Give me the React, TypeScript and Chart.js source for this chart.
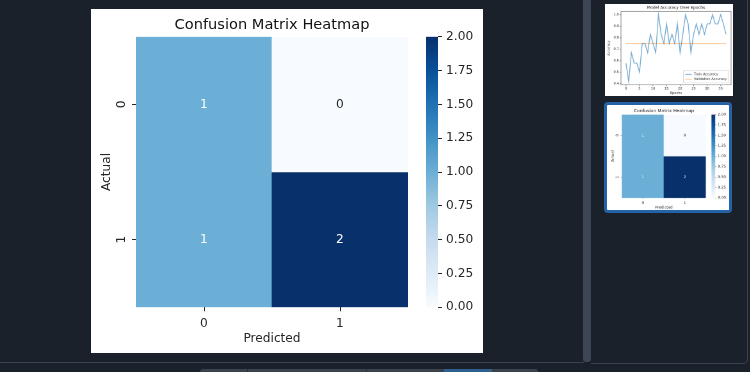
import React, { useEffect, useRef } from 'react';
import { Chart, registerables } from 'chart.js';

Chart.register(...registerables);

// ---------- data ----------
const predictedLabels = ['0', '1'];
const actualLabels = ['0', '1'];
const matrixRow0 = [1, 0];
const matrixRow1 = [1, 2];
const colorbarRange = [0, 2];
const colorbarStep = 0.25;

const epochs = [0, 1, 2, 3, 4, 5, 6, 7, 8, 9, 10, 11, 12, 13, 14, 15, 16, 17, 18, 19, 20, 21, 22, 23, 24, 25, 26, 27, 28, 29, 30, 31, 32, 33, 34, 35, 36, 37];
const trainAccuracy = [0.58, 0.42, 0.67, 0.58, 0.58, 0.5, 0.75, 0.75, 0.67, 0.83, 0.75, 0.67, 1.0, 0.83, 0.75, 0.92, 0.75, 0.83, 0.75, 0.92, 0.67, 0.83, 1.0, 0.92, 0.67, 0.83, 0.92, 0.83, 0.92, 0.83, 0.92, 0.92, 1.0, 0.92, 0.92, 1.0, 0.92, 0.83];
const validationAccuracy = [0.75, 0.75, 0.75, 0.75, 0.75, 0.75, 0.75, 0.75, 0.75, 0.75, 0.75, 0.75, 0.75, 0.75, 0.75, 0.75, 0.75, 0.75, 0.75, 0.75, 0.75, 0.75, 0.75, 0.75, 0.75, 0.75, 0.75, 0.75, 0.75, 0.75, 0.75, 0.75, 0.75, 0.75, 0.75, 0.75, 0.75, 0.75];
const epochTicks = [0, 5, 10, 15, 20, 25, 30, 35];
const accuracyTicks = [0.4, 0.5, 0.6, 0.7, 0.8, 0.9, 1.0];

// ---------- styles ----------
const FONT = '"DejaVu Sans", sans-serif';
const TXT = '#262626';
const BLUES = ['#f7fbff', '#deebf7', '#c6dbef', '#9ecae1', '#6baed6', '#4292c6', '#2171b5', '#08519c', '#08306b'];
const FIG_W = 392;
const FIG_H = 344;
const MAIN_W = 320;
const CB_LEFT = 330;
const CB_W = 62;

function hexToRgb(h: string) {
  const n = parseInt(h.slice(1), 16);
  return [(n >> 16) & 255, (n >> 8) & 255, n & 255];
}
function blues(t: number) {
  const tt = Math.max(0, Math.min(1, t)) * (BLUES.length - 1);
  const i = Math.min(BLUES.length - 2, Math.floor(tt));
  const f = tt - i;
  const a = hexToRgb(BLUES[i]);
  const b = hexToRgb(BLUES[i + 1]);
  const c = a.map((v, k) => Math.round(v + (b[k] - v) * f));
  return `rgb(${c[0]},${c[1]},${c[2]})`;
}
function annotColor(t: number) {
  const s = blues(t).match(/\d+/g)!.map(Number).map((v) => {
    const x = v / 255;
    return x <= 0.03928 ? x / 12.92 : Math.pow((x + 0.055) / 1.055, 2.4);
  });
  const lum = 0.2126 * s[0] + 0.7152 * s[1] + 0.0722 * s[2];
  return lum > 0.408 ? TXT : '#ffffff';
}

function makeCanvas(w: number, h: number) {
  const c = document.createElement('canvas');
  c.width = w;
  c.height = h;
  return c;
}

function downscale(src: HTMLCanvasElement, dst: HTMLCanvasElement) {
  let cur = src;
  while (cur.width / 2 > dst.width) {
    const c = makeCanvas(Math.round(cur.width / 2), Math.round(cur.height / 2));
    const x = c.getContext('2d')!;
    x.imageSmoothingEnabled = true;
    (x as any).imageSmoothingQuality = 'high';
    x.drawImage(cur, 0, 0, c.width, c.height);
    cur = c;
  }
  const d = dst.getContext('2d')!;
  d.imageSmoothingEnabled = true;
  (d as any).imageSmoothingQuality = 'high';
  d.clearRect(0, 0, dst.width, dst.height);
  d.drawImage(cur, 0, 0, dst.width, dst.height);
}

function buildHeatmap(mainCanvas: HTMLCanvasElement, cbCanvas: HTMLCanvasElement) {
  const rows = [matrixRow0, matrixRow1];
  const vmin = colorbarRange[0];
  const vmax = colorbarRange[1];
  const fs = 12.2;
  const annot = {
    id: 'annot',
    afterDatasetsDraw(chart: any) {
      const ctx = chart.ctx;
      ctx.save();
      ctx.font = `${fs}px ${FONT}`;
      ctx.textAlign = 'center';
      ctx.textBaseline = 'middle';
      rows.forEach((row, r) => {
        const meta = chart.getDatasetMeta(r);
        meta.data.forEach((el: any, c: number) => {
          const v = row[c];
          ctx.fillStyle = annotColor((v - vmin) / (vmax - vmin));
          ctx.fillText(String(v), el.x, (el.y + el.base) / 2);
        });
      });
      ctx.restore();
    },
  };
  const tickGrid = { display: true, drawOnChartArea: false, tickLength: 4, color: TXT, lineWidth: 1 };
  const main = new Chart(mainCanvas, {
    type: 'bar',
    data: {
      labels: predictedLabels,
      datasets: rows.map((row, r) => ({
        data: row.map(() => [r, r + 1]),
        backgroundColor: row.map((v) => blues((v - vmin) / (vmax - vmin))),
        borderWidth: 0,
        grouped: false,
        barPercentage: 1,
        categoryPercentage: 1,
      })) as any,
    },
    options: {
      responsive: false,
      animation: false,
      devicePixelRatio: 1,
      layout: { padding: { left: 0, right: 3, top: 0, bottom: 0 } },
      plugins: {
        legend: { display: false },
        tooltip: { enabled: false },
        title: {
          display: true,
          text: 'Confusion Matrix Heatmap',
          fullSize: false,
          color: '#111',
          font: { family: FONT, size: 14.6, weight: 'normal' },
          padding: { top: 7.3, bottom: 2.9 },
        },
      },
      scales: {
        x: {
          type: 'category',
          offset: true,
          grid: { ...tickGrid, offset: false },
          border: { display: false },
          ticks: { color: TXT, font: { family: FONT, size: fs }, padding: 5, maxRotation: 0, minRotation: 0 },
          title: { display: true, text: 'Predicted', color: TXT, font: { family: FONT, size: fs }, padding: { top: 0, bottom: 7 } },
          afterFit: (s: any) => { s.height = 45.7; },
        },
        y: {
          type: 'linear',
          min: 0,
          max: 2,
          reverse: true,
          afterBuildTicks: (s: any) => { s.ticks = actualLabels.map((_, i) => ({ value: i + 0.5 })); },
          grid: tickGrid,
          border: { display: false },
          ticks: {
            color: TXT,
            font: { family: FONT, size: fs },
            minRotation: 90,
            maxRotation: 90,
            crossAlign: 'center',
            padding: 6,
            callback: (_v: any, i: number) => actualLabels[i],
          },
          title: { display: true, text: 'Actual', color: TXT, font: { family: FONT, size: fs }, padding: { top: 8.3, bottom: 0 } },
          afterFit: (s: any) => { s.width = 45; },
        },
      },
    } as any,
    plugins: [annot],
  });

  const cb = new Chart(cbCanvas, {
    type: 'bar',
    data: {
      labels: [''],
      datasets: [{
        data: [colorbarRange] as any,
        backgroundColor: (ctx: any) => {
          const a = ctx.chart.chartArea;
          if (!a) return blues(0.5);
          const g = ctx.chart.ctx.createLinearGradient(0, a.bottom, 0, a.top);
          BLUES.forEach((c, i) => g.addColorStop(i / (BLUES.length - 1), c));
          return g;
        },
        borderWidth: 0,
        barPercentage: 1,
        categoryPercentage: 1,
      }],
    },
    options: {
      responsive: false,
      animation: false,
      devicePixelRatio: 1,
      layout: { padding: { left: 5, top: 27.7, bottom: 45.7, right: 0 } },
      plugins: { legend: { display: false }, tooltip: { enabled: false } },
      scales: {
        x: { display: false },
        y: {
          position: 'right',
          min: colorbarRange[0],
          max: colorbarRange[1],
          grid: tickGrid,
          border: { display: false },
          ticks: { stepSize: colorbarStep, color: TXT, font: { family: FONT, size: fs }, padding: 4, callback: (v: any) => Number(v).toFixed(2) },
          afterFit: (s: any) => { s.width = 45; },
        },
      },
    } as any,
  });
  return [main, cb];
}

function buildAccuracy(canvas: HTMLCanvasElement) {
  const fs = 10.4;
  const box = {
    id: 'box',
    afterDraw(chart: any) {
      const { ctx, chartArea: a } = chart;
      ctx.save();
      ctx.strokeStyle = '#555';
      ctx.lineWidth = 1.5;
      ctx.strokeRect(a.left, a.top, a.right - a.left, a.bottom - a.top);
      ctx.restore();
    },
  };
  const legendBox = {
    id: 'legendBox',
    afterDraw(chart: any) {
      const { ctx, chartArea: a } = chart;
      const dss = chart.data.datasets;
      ctx.save();
      ctx.font = `${fs}px ${FONT}`;
      const tw = Math.max(...dss.map((d: any) => ctx.measureText(d.label).width));
      const w = tw + 40;
      const lh = 15;
      const h = dss.length * lh + 8;
      const x0 = a.right - w - 7;
      const y0 = a.bottom - h - 6;
      ctx.fillStyle = 'rgba(255,255,255,0.85)';
      ctx.strokeStyle = '#c8c8c8';
      ctx.lineWidth = 1.5;
      ctx.beginPath();
      ctx.roundRect(x0, y0, w, h, 3);
      ctx.fill();
      ctx.stroke();
      dss.forEach((d: any, i: number) => {
        const y = y0 + 4 + lh * i + lh / 2;
        ctx.strokeStyle = d.borderColor;
        ctx.lineWidth = 2.5;
        ctx.beginPath();
        ctx.moveTo(x0 + 6, y);
        ctx.lineTo(x0 + 26, y);
        ctx.stroke();
        ctx.fillStyle = TXT;
        ctx.textBaseline = 'middle';
        ctx.fillText(d.label, x0 + 33, y);
      });
      ctx.restore();
    },
  };
  const tickGrid = { display: true, drawOnChartArea: false, tickLength: 3.5, color: '#333', lineWidth: 1.5 };
  return new Chart(canvas, {
    type: 'line',
    data: {
      datasets: [
        { label: 'Train Accuracy', data: epochs.map((e, i) => ({ x: e, y: trainAccuracy[i] })), borderColor: 'rgba(31,119,180,0.65)', borderWidth: 2.6, pointRadius: 0, tension: 0 },
        { label: 'Validation Accuracy', data: epochs.map((e, i) => ({ x: e, y: validationAccuracy[i] })), borderColor: 'rgba(255,127,14,0.55)', borderWidth: 2.6, pointRadius: 0, tension: 0 },
      ],
    },
    options: {
      responsive: false,
      animation: false,
      devicePixelRatio: 1,
      layout: { padding: { left: 0, right: 6, top: 0, bottom: 0 } },
      plugins: {
        legend: { display: false },
        tooltip: { enabled: false },
        title: { display: true, text: 'Model Accuracy Over Epochs', fullSize: false, color: '#111', font: { family: FONT, size: 12.5, weight: 'normal' }, padding: { top: 4, bottom: 4 } },
      },
      scales: {
        x: {
          type: 'linear', min: -1.85, max: 38.85,
          afterBuildTicks: (s: any) => { s.ticks = epochTicks.map((v) => ({ value: v })); },
          grid: tickGrid, border: { display: false },
          ticks: { color: TXT, font: { family: FONT, size: fs }, padding: 3, maxRotation: 0, callback: (v: any) => String(v) },
          title: { display: true, text: 'Epochs', color: TXT, font: { family: FONT, size: fs }, padding: { top: 0, bottom: 2 } },
          afterFit: (s: any) => { s.height = 35; },
        },
        y: {
          type: 'linear', min: 0.391, max: 1.029,
          afterBuildTicks: (s: any) => { s.ticks = accuracyTicks.map((v) => ({ value: v })); },
          grid: tickGrid, border: { display: false },
          ticks: { color: TXT, font: { family: FONT, size: fs }, padding: 3, callback: (v: any) => Number(v).toFixed(1) },
          title: { display: true, text: 'Accuracy', color: TXT, font: { family: FONT, size: fs }, padding: { top: 6, bottom: 0 } },
          afterFit: (s: any) => { s.width = 50; },
        },
      },
    } as any,
    plugins: [box, legendBox],
  });
}

function Heatmap() {
  const mainRef = useRef<HTMLCanvasElement>(null);
  const cbRef = useRef<HTMLCanvasElement>(null);
  useEffect(() => {
    const charts = buildHeatmap(mainRef.current!, cbRef.current!);
    return () => charts.forEach((c) => c.destroy());
  }, []);
  return (
    <div style={{ position: 'relative', width: FIG_W, height: FIG_H, background: '#fff' }}>
      <canvas ref={mainRef} width={MAIN_W} height={FIG_H} style={{ position: 'absolute', left: 0, top: 0, width: MAIN_W, height: FIG_H }} />
      <canvas ref={cbRef} width={CB_W} height={FIG_H} style={{ position: 'absolute', left: CB_LEFT, top: 0, width: CB_W, height: FIG_H }} />
    </div>
  );
}

function HeatmapThumb({ w, h }: { w: number; h: number }) {
  const ref = useRef<HTMLCanvasElement>(null);
  useEffect(() => {
    const m = makeCanvas(MAIN_W, FIG_H);
    const c = makeCanvas(CB_W, FIG_H);
    const charts = buildHeatmap(m, c);
    const fig = makeCanvas(FIG_W, FIG_H);
    const fx = fig.getContext('2d')!;
    fx.fillStyle = '#fff';
    fx.fillRect(0, 0, FIG_W, FIG_H);
    fx.drawImage(m, 0, 0);
    fx.drawImage(c, CB_LEFT, 0);
    downscale(fig, ref.current!);
    return () => charts.forEach((ch) => ch.destroy());
  }, []);
  return <canvas ref={ref} width={w} height={h} style={{ display: 'block', width: w, height: h }} />;
}

function AccuracyThumb({ w, h }: { w: number; h: number }) {
  const ref = useRef<HTMLCanvasElement>(null);
  useEffect(() => {
    const src = makeCanvas(400, 288);
    const chart = buildAccuracy(src);
    const fig = makeCanvas(400, 288);
    const fx = fig.getContext('2d')!;
    fx.fillStyle = '#fff';
    fx.fillRect(0, 0, 400, 288);
    fx.drawImage(src, 0, 0);
    downscale(fig, ref.current!);
    return () => chart.destroy();
  }, []);
  return <canvas ref={ref} width={w} height={h} style={{ display: 'block', width: w, height: h }} />;
}

export default function App() {
  const lineCol = '#3a4350';
  return (
    <div style={{ position: 'fixed', left: 0, top: 0, width: 750, height: 372, background: '#1a212b', overflow: 'hidden', fontFamily: FONT }}>
      <div style={{ position: 'absolute', left: 91, top: 9 }}>
        <Heatmap />
      </div>
      <div style={{ position: 'absolute', left: 0, top: 362, width: 584, height: 1, background: lineCol }} />
      <div style={{ position: 'absolute', left: 583, top: -4, width: 8, height: 366, background: '#3c4655', borderRadius: 3 }} />
      <div style={{ position: 'absolute', left: 591, top: -6, width: 156, height: 368, border: `1px solid ${lineCol}`, borderLeft: 'none', borderRadius: '0 0 5px 0' }} />
      <div style={{ position: 'absolute', left: 605, top: 4, width: 128, height: 92, background: '#fff', overflow: 'hidden' }}>
        <AccuracyThumb w={128} h={92} />
      </div>
      <div style={{ position: 'absolute', left: 604, top: 102, width: 122, height: 105, border: '3px solid #2563a8', borderRadius: 4, background: '#fff', overflow: 'hidden' }}>
        <div style={{ position: 'absolute', left: 1, top: 1 }}>
          <HeatmapThumb w={121} h={106} />
        </div>
      </div>
      <div style={{ position: 'absolute', left: 200, top: 369, width: 338, height: 8, background: '#3a424e', borderRadius: 3 }} />
      <div style={{ position: 'absolute', left: 247, top: 369, width: 1, height: 8, background: '#2a313b' }} />
      <div style={{ position: 'absolute', left: 366, top: 369, width: 1, height: 8, background: '#2a313b' }} />
      <div style={{ position: 'absolute', left: 444, top: 369, width: 48, height: 8, background: '#2e5f8e' }} />
    </div>
  );
}
